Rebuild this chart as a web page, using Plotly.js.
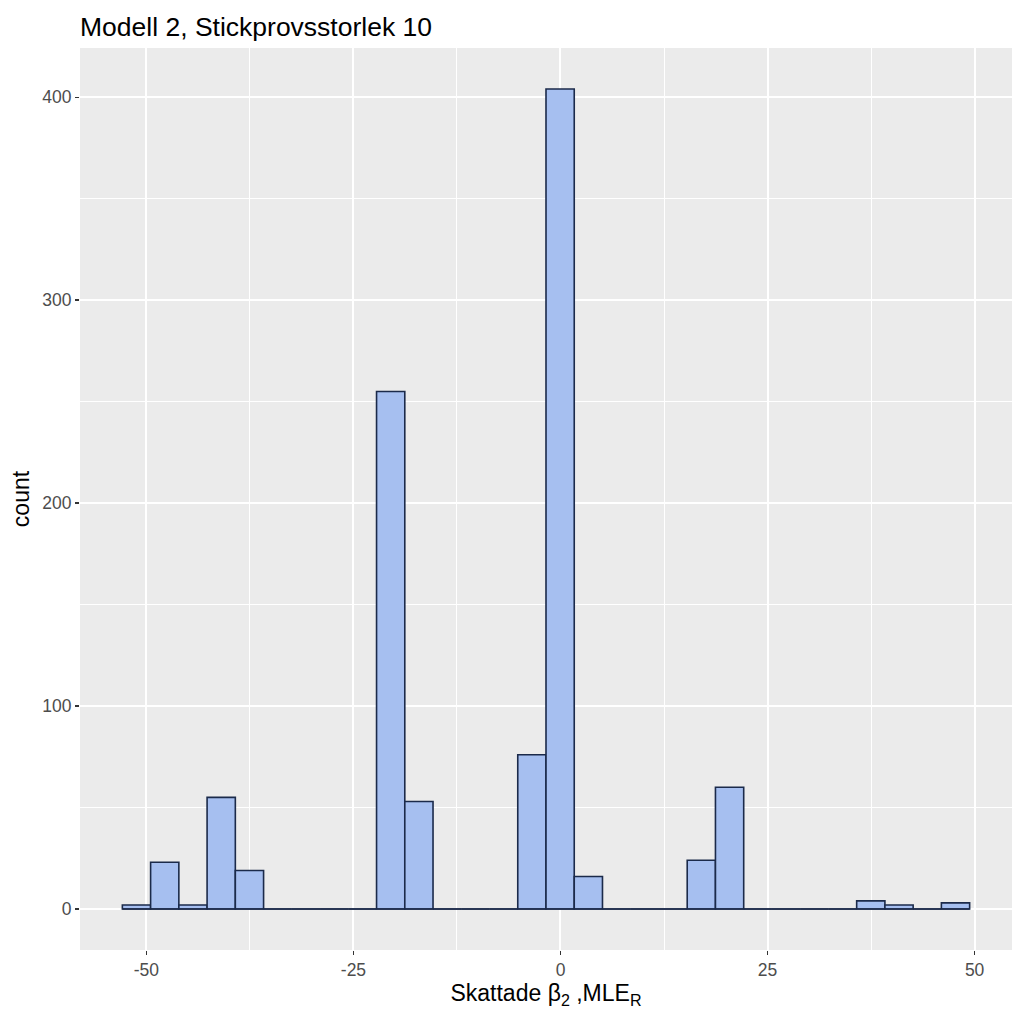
<!DOCTYPE html>
<html>
<head>
<meta charset="utf-8">
<script src="https://cdn.plot.ly/plotly-3.0.1.min.js"></script>
<style>html,body{margin:0;padding:0;background:#fff;}#chart{width:1024px;height:1024px;}</style>
</head>
<body>
<div id="chart"></div>
<script>
// Histogram: 30 bins, first bin left edge and bin width
var binStart = -52.9;
var binWidth = 3.41;
var counts = [2, 23, 2, 55, 19, 0, 0, 0, 0, 255, 53, 0, 0, 0, 76, 404, 16, 0, 0, 0, 24, 60, 0, 0, 0, 0, 4, 2, 0, 3];
var xTicks = [-50, -25, 0, 25, 50];
var yTicks = [0, 100, 200, 300, 400];

var centers = counts.map(function (c, i) { return binStart + binWidth * (i + 0.5); });
var binEnd = binStart + binWidth * counts.length;

var fillColor = '#A6BFF0';
var lineColor = '#1B2A4A';

var bars = {
  type: 'bar',
  x: centers,
  y: counts,
  width: binWidth,
  marker: { color: fillColor, line: { color: lineColor, width: 1.6 } },
  hoverinfo: 'x+y',
  showlegend: false
};
var baseline = {
  type: 'scatter',
  mode: 'lines',
  x: [binStart, binEnd],
  y: [0, 0],
  line: { color: lineColor, width: 1.6 },
  hoverinfo: 'skip',
  showlegend: false
};

var xr = binEnd - binStart;
var ymax = Math.max.apply(null, counts);

var layout = {
  width: 1024, height: 1024,
  paper_bgcolor: '#FFFFFF',
  plot_bgcolor: '#EBEBEB',
  margin: { l: 80, r: 12, t: 48, b: 74 },
  font: { family: 'Liberation Sans, Arial, sans-serif', color: '#000000' },
  title: {
    text: 'Modell 2, Stickprovsstorlek 10',
    x: 0, xref: 'paper', xanchor: 'left',
    y: 1, yref: 'paper', yanchor: 'bottom', pad: { b: 12 },
    font: { size: 26.5, color: '#000000' }
  },
  bargap: 0,
  xaxis: {
    range: [binStart - 0.05 * xr, binEnd + 0.05 * xr],
    tickmode: 'array', tickvals: xTicks, ticktext: xTicks.map(String),
    ticks: 'outside', ticklen: 4, tickwidth: 1.2, tickcolor: '#333333',
    tickfont: { size: 17.5, color: '#4D4D4D' },
    showgrid: true, gridcolor: '#FFFFFF', gridwidth: 2,
    minor: { dtick: 12.5, tick0: 12.5, showgrid: true, gridcolor: '#FFFFFF', gridwidth: 1, ticks: '' },
    zeroline: false, showline: false,
    title: { text: 'Skattade β<sub>2</sub> ,MLE<sub>R</sub>', font: { size: 23, color: '#000000' }, standoff: 2 }
  },
  yaxis: {
    range: [-0.05 * ymax, ymax * 1.05],
    tickmode: 'array', tickvals: yTicks, ticktext: yTicks.map(String),
    ticks: 'outside', ticklen: 4, tickwidth: 1.2, tickcolor: '#333333',
    tickfont: { size: 17.5, color: '#4D4D4D' },
    showgrid: true, gridcolor: '#FFFFFF', gridwidth: 2,
    minor: { dtick: 50, tick0: 50, showgrid: true, gridcolor: '#FFFFFF', gridwidth: 1, ticks: '' },
    zeroline: false, showline: false,
    title: { text: 'count', font: { size: 23, color: '#000000' }, standoff: 6 }
  }
};

Plotly.newPlot('chart', [baseline, bars], layout, { displayModeBar: false, staticPlot: true });
</script>
</body>
</html>
